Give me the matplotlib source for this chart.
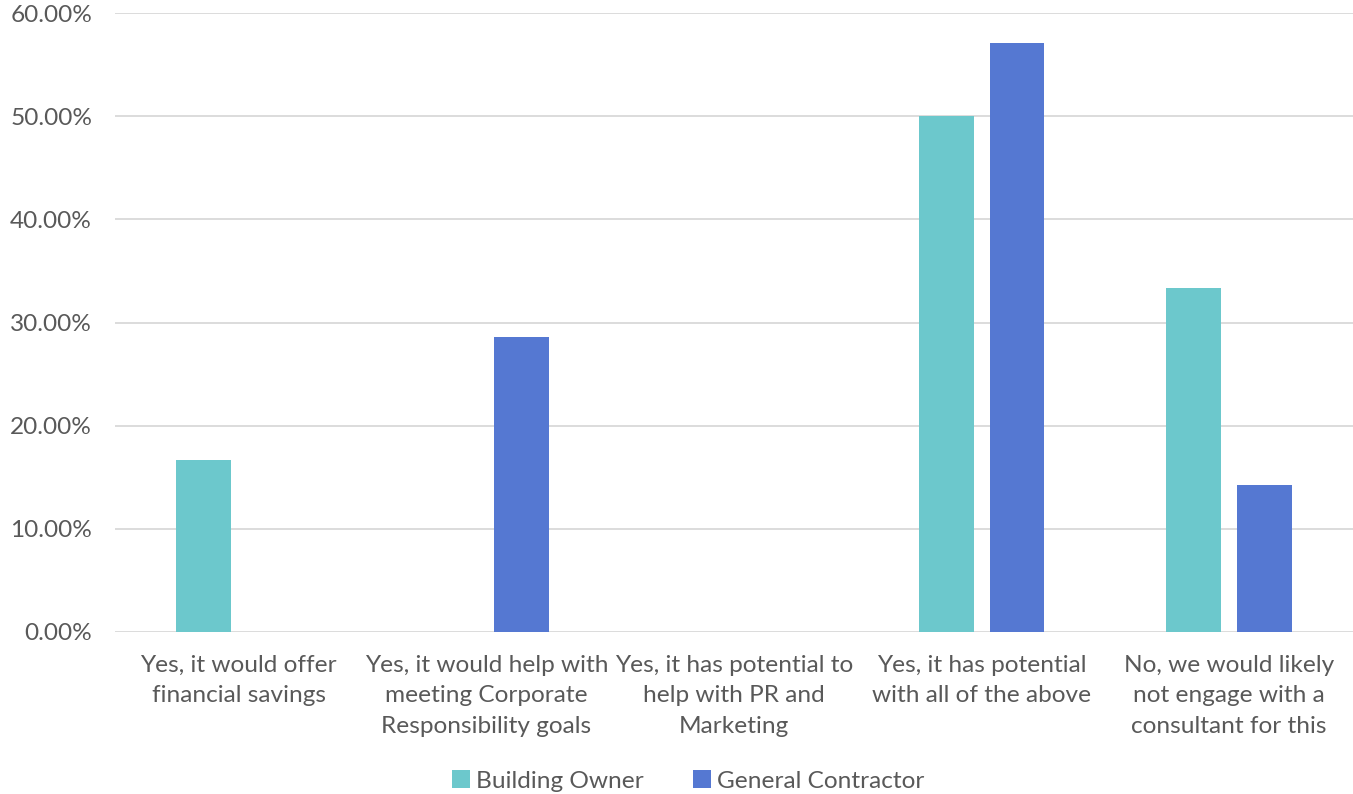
import matplotlib
matplotlib.use("Agg")
import matplotlib.pyplot as plt
import numpy as np
from matplotlib.ticker import FuncFormatter

categories = [
    "Yes, it would offer\nfinancial savings",
    "Yes, it would help with\nmeeting Corporate\nResponsibility goals",
    "Yes, it has potential to\nhelp with PR and\nMarketing",
    "Yes, it has potential\nwith all of the above",
    "No, we would likely\nnot engage with a\nconsultant for this",
]
building_owner = [0.1667, 0.0, 0.0, 0.50, 0.3333]
general_contractor = [0.0, 0.2857, 0.0, 0.5714, 0.1429]
series_names = ["Building Owner", "General Contractor"]
colors = ["#6CC8CC", "#5578D2"]
text_color = "#595959"

plt.rcParams["font.family"] = ["Lato", "DejaVu Sans"]

fig = plt.figure(figsize=(13.53, 7.94), dpi=100)
ax = fig.add_axes([115 / 1353, 1 - 632 / 794, 1 - 115 / 1353, (632 - 13) / 794])

x = np.arange(len(categories))
w = 0.222
off = 0.143
ax.bar(x - off, building_owner, width=w, color=colors[0], label=series_names[0], zorder=3)
ax.bar(x + off, general_contractor, width=w, color=colors[1], label=series_names[1], zorder=3)

ax.set_xlim(-0.5, len(categories) - 0.5)
ax.set_ylim(0, 0.6)
ax.set_yticks(np.arange(0, 0.61, 0.1))
ax.yaxis.set_major_formatter(FuncFormatter(lambda v, p: f"{v * 100:.2f}%"))
ax.set_xticks(x)
ax.set_xticklabels(categories, linespacing=1.55)
ax.tick_params(axis="both", length=0, labelsize=17.6, labelcolor=text_color)
ax.tick_params(axis="y", pad=16.5)
ax.tick_params(axis="x", pad=16.5)
ax.grid(axis="y", color="#D9D9D9", linewidth=1.3, zorder=0)
for s in ax.spines.values():
    s.set_visible(False)

fig.legend(loc="center", bbox_to_anchor=(688 / 1353, 1 - 781 / 794),
           ncol=2, frameon=False, fontsize=17.6, handlelength=0.75, handleheight=0.75,
           handletextpad=0.25, columnspacing=2.0, labelcolor=text_color)

fig.savefig("out.png", dpi=100, facecolor="white")
